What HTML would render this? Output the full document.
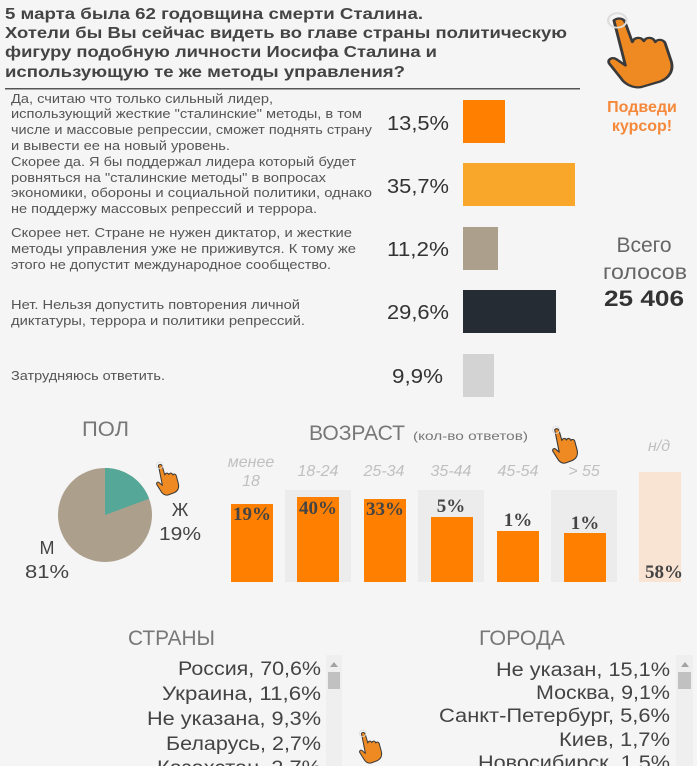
<!DOCTYPE html>
<html><head><meta charset="utf-8"><style>
html,body{margin:0;padding:0;background:#f5f5f5;}
svg{display:block;}
text{font-family:"Liberation Sans","DejaVu Sans",sans-serif;}
</style></head><body>
<svg width="697" height="766" viewBox="0 0 697 766" xmlns="http://www.w3.org/2000/svg">
<rect width="697" height="766" fill="#f5f5f5"/>
<defs>
<g id="hand">
<path d="M6 6 C10 2 15 4 16 9 L22 30 C24 24 30 24 32 29 C34 24 40 24 42 30 C44 26 50 27 51 33 L56 52 C58 62 54 70 46 74 L30 80 C22 82 15 76 12 70 L2 54 C0 50 4 46 8 49 L16 56 Z" fill="#ef8a22" stroke="#3a3a3a" stroke-width="2.5" stroke-linejoin="round"/>
<circle cx="9" cy="6" r="8" fill="none" stroke="#ddd" stroke-width="2"/>
</g>
</defs>
<!-- title -->
<g font-weight="bold" font-size="16" fill="#444">
<text x="5" y="19" textLength="418" lengthAdjust="spacingAndGlyphs">5 марта была 62 годовщина смерти Сталина.</text>
<text x="5" y="38" textLength="562" lengthAdjust="spacingAndGlyphs">Хотели бы Вы сейчас видеть во главе страны политическую</text>
<text x="5" y="57" textLength="432" lengthAdjust="spacingAndGlyphs">фигуру подобную личности Иосифа Сталина и</text>
<text x="5" y="77" textLength="400" lengthAdjust="spacingAndGlyphs">использующую те же методы управления?</text>
</g>
<rect x="5" y="88" width="575" height="1.5" fill="#555"/>
<!-- answers -->
<g font-size="13" fill="#555">
<text x="11" y="103" textLength="262" lengthAdjust="spacingAndGlyphs">Да, считаю что только сильный лидер,</text>
<text x="11" y="118" textLength="351" lengthAdjust="spacingAndGlyphs">использующий жесткие "сталинские" методы, в том</text>
<text x="11" y="134" textLength="361" lengthAdjust="spacingAndGlyphs">числе и массовые репрессии, сможет поднять страну</text>
<text x="11" y="150" textLength="219" lengthAdjust="spacingAndGlyphs">и вывести ее на новый уровень.</text>
<text x="11" y="166" textLength="345" lengthAdjust="spacingAndGlyphs">Скорее да. Я бы поддержал лидера который будет</text>
<text x="11" y="182" textLength="315" lengthAdjust="spacingAndGlyphs">ровняться на "сталинские методы" в вопросах</text>
<text x="11" y="197" textLength="361" lengthAdjust="spacingAndGlyphs">экономики, обороны и социальной политики, однако</text>
<text x="11" y="213" textLength="306" lengthAdjust="spacingAndGlyphs">не поддержу массовых репрессий и террора.</text>
<text x="11" y="237" textLength="341" lengthAdjust="spacingAndGlyphs">Скорее нет. Стране не нужен диктатор, и жесткие</text>
<text x="11" y="253" textLength="345" lengthAdjust="spacingAndGlyphs">методы управления уже не приживутся. К тому же</text>
<text x="11" y="269" textLength="320" lengthAdjust="spacingAndGlyphs">этого не допустит международное сообщество.</text>
<text x="11" y="309" textLength="289" lengthAdjust="spacingAndGlyphs">Нет. Нельзя допустить повторения личной</text>
<text x="11" y="325" textLength="294" lengthAdjust="spacingAndGlyphs">диктатуры, террора и политики репрессий.</text>
<text x="11" y="380" textLength="154" lengthAdjust="spacingAndGlyphs">Затрудняюсь ответить.</text>
</g>
<g font-size="20" fill="#333">
<text x="387" y="130" textLength="62" lengthAdjust="spacingAndGlyphs">13,5%</text>
<text x="387" y="193" textLength="62" lengthAdjust="spacingAndGlyphs">35,7%</text>
<text x="387" y="256" textLength="62" lengthAdjust="spacingAndGlyphs">11,2%</text>
<text x="387" y="319" textLength="62" lengthAdjust="spacingAndGlyphs">29,6%</text>
<text x="392" y="383" textLength="51" lengthAdjust="spacingAndGlyphs">9,9%</text>
</g>
<rect x="463" y="100" width="42" height="43" fill="#ff8000"/>
<rect x="463" y="163" width="112" height="43" fill="#f9a72b"/>
<rect x="463" y="227" width="35" height="43" fill="#ac9f8c"/>
<rect x="463" y="290" width="93" height="43" fill="#262c33"/>
<rect x="463" y="354" width="31" height="43" fill="#d3d3d3"/>
<!-- right -->
<use href="#hand" transform="translate(607,15) scale(1.15,0.9)"/>
<g font-weight="bold" font-size="16" fill="#f5883a" text-anchor="middle">
<text x="642" y="112">Подведи</text>
<text x="642" y="131">курсор!</text>
</g>
<g font-size="21" fill="#666" text-anchor="middle">
<text x="644" y="252">Всего</text>
<text x="645" y="279" textLength="84" lengthAdjust="spacingAndGlyphs">голосов</text>
</g>
<text x="644" y="306" font-size="22" font-weight="bold" fill="#333" text-anchor="middle" textLength="80" lengthAdjust="spacingAndGlyphs">25 406</text>
<!-- gender -->
<text x="82" y="436" font-size="21" fill="#777" textLength="47" lengthAdjust="spacingAndGlyphs">ПОЛ</text>
<circle cx="105" cy="515" r="47" fill="#ac9f8c"/>
<path d="M105 515 L105 468 A47 47 0 0 1 149.1 498.7 Z" fill="#55a898"/>
<use href="#hand" transform="translate(156,463) scale(0.4)"/>
<g font-size="18" fill="#444">
<text x="180" y="516" text-anchor="middle">Ж</text>
<text x="159" y="540" textLength="42" lengthAdjust="spacingAndGlyphs">19%</text>
<text x="47" y="554" text-anchor="middle">М</text>
<text x="25" y="578" textLength="44" lengthAdjust="spacingAndGlyphs">81%</text>
</g>
<!-- age -->
<text x="309" y="440" font-size="21" fill="#777" textLength="96" lengthAdjust="spacingAndGlyphs">ВОЗРАСТ</text>
<text x="413" y="440" font-size="12" fill="#777" textLength="115" lengthAdjust="spacingAndGlyphs">(кол-во ответов)</text>
<use href="#hand" transform="translate(552,427) scale(0.45)"/>
<g font-size="16" font-style="italic" fill="#c0c0c0" text-anchor="middle">
<text x="251" y="467">менее</text>
<text x="251" y="486">18</text>
<text x="318" y="476">18-24</text>
<text x="384" y="476">25-34</text>
<text x="451" y="476">35-44</text>
<text x="518" y="476">45-54</text>
<text x="584" y="476">&gt; 55</text>
<text x="659" y="451">н/д</text>
</g>
<rect x="285" y="490" width="66" height="92" fill="#ececec"/>
<rect x="418" y="490" width="66" height="92" fill="#ececec"/>
<rect x="551" y="490" width="66" height="92" fill="#ececec"/>
<g fill="#ff8000">
<rect x="231" y="504" width="42" height="78"/>
<rect x="297" y="497" width="42" height="85"/>
<rect x="364" y="499" width="42" height="83"/>
<rect x="431" y="517" width="42" height="65"/>
<rect x="497" y="531" width="42" height="51"/>
<rect x="564" y="533" width="42" height="49"/>
</g>
<rect x="639" y="472" width="42" height="110" fill="#f9e3d3"/>
<g font-weight="bold" font-size="19" fill="#444" text-anchor="middle">
<text x="252" y="520" style="font-family:'Liberation Serif',serif">19%</text>
<text x="318" y="514" style="font-family:'Liberation Serif',serif">40%</text>
<text x="385" y="515" style="font-family:'Liberation Serif',serif">33%</text>
<text x="451" y="512" style="font-family:'Liberation Serif',serif">5%</text>
<text x="518" y="526" style="font-family:'Liberation Serif',serif">1%</text>
<text x="585" y="529" style="font-family:'Liberation Serif',serif">1%</text>
<text x="664" y="578" style="font-family:'Liberation Serif',serif">58%</text>
</g>
<!-- countries / cities -->
<text x="128" y="645" font-size="21" fill="#777" textLength="87" lengthAdjust="spacingAndGlyphs">СТРАНЫ</text>
<text x="479" y="645" font-size="21" fill="#777" textLength="86" lengthAdjust="spacingAndGlyphs">ГОРОДА</text>
<g font-size="19" fill="#444">
<text x="178" y="675" textLength="143" lengthAdjust="spacingAndGlyphs">Россия, 70,6%</text>
<text x="162" y="700" textLength="159" lengthAdjust="spacingAndGlyphs">Украина, 11,6%</text>
<text x="147" y="725" textLength="174" lengthAdjust="spacingAndGlyphs">Не указана, 9,3%</text>
<text x="166" y="750" textLength="155" lengthAdjust="spacingAndGlyphs">Беларусь, 2,7%</text>
<text x="157" y="774" textLength="164" lengthAdjust="spacingAndGlyphs">Казахстан, 2,7%</text>
<text x="496" y="676" textLength="174" lengthAdjust="spacingAndGlyphs">Не указан, 15,1%</text>
<text x="536" y="699" textLength="134" lengthAdjust="spacingAndGlyphs">Москва, 9,1%</text>
<text x="439" y="722" textLength="231" lengthAdjust="spacingAndGlyphs">Санкт-Петербург, 5,6%</text>
<text x="559" y="746" textLength="111" lengthAdjust="spacingAndGlyphs">Киев, 1,7%</text>
<text x="478" y="769" textLength="192" lengthAdjust="spacingAndGlyphs">Новосибирск, 1,5%</text>
</g>
<rect x="326" y="655" width="16" height="111" fill="#efefef"/>
<path d="M330 667 L334 662 L338 667 Z" fill="#a3a3a3"/>
<rect x="328" y="672" width="12" height="17" fill="#c1c1c1"/>
<rect x="676" y="655" width="17" height="111" fill="#efefef"/>
<path d="M681 667 L685 662 L689 667 Z" fill="#a3a3a3"/>
<rect x="678" y="672" width="13" height="17" fill="#c1c1c1"/>
<use href="#hand" transform="translate(359,731) scale(0.4)"/>
</svg>
</body></html>
